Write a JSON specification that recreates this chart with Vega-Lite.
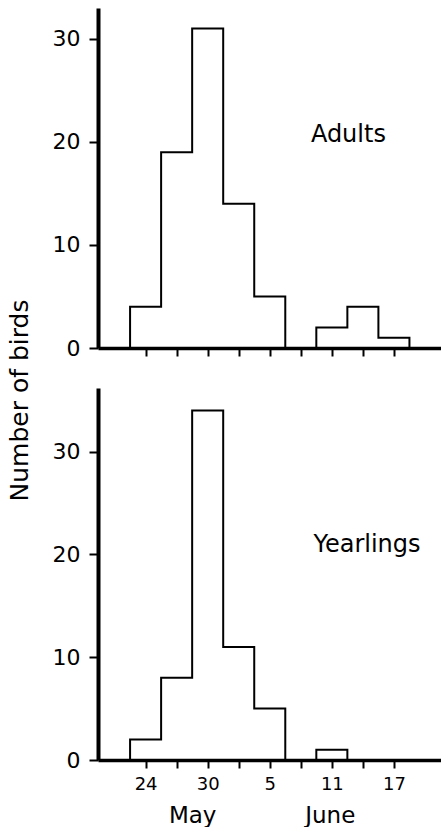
{
  "$schema": "https://vega.github.io/schema/vega-lite/v6.json",
  "padding": {"left": 7, "top": 8, "right": 0, "bottom": 0},
  "background": "white",
  "config": {
    "view": {"stroke": null},
    "font": "DejaVu Sans",
    "axis": {"grid": false, "domainColor": "black", "tickColor": "black", "labelColor": "black", "titleColor": "black", "labelFont": "DejaVu Sans", "titleFont": "DejaVu Sans", "zindex": 1, "labelOverlap": false, "labelFlush": false}
  },
  "datasets": {
    "adults": [
      {"day": 21, "count": 0},
      {"day": 24, "count": 4},
      {"day": 27, "count": 19},
      {"day": 30, "count": 31},
      {"day": 33, "count": 14},
      {"day": 36, "count": 5},
      {"day": 39, "count": 0},
      {"day": 42, "count": 2},
      {"day": 45, "count": 4},
      {"day": 48, "count": 1},
      {"day": 51, "count": 0}
    ],
    "yearlings": [
      {"day": 21, "count": 0},
      {"day": 24, "count": 2},
      {"day": 27, "count": 8},
      {"day": 30, "count": 34},
      {"day": 33, "count": 11},
      {"day": 36, "count": 5},
      {"day": 39, "count": 0},
      {"day": 42, "count": 1},
      {"day": 45, "count": 0},
      {"day": 48, "count": 0},
      {"day": 51, "count": 0}
    ],
    "months": [
      {"month": "May", "day": 28.5},
      {"month": "June", "day": 41.8}
    ]
  },
  "bounds": "flush",
  "spacing": 40,
  "vconcat": [
    {
      "width": 343,
      "height": 340,
      "layer": [
        {
          "data": {"name": "adults"},
          "mark": {"type": "line", "interpolate": "step", "color": "black", "strokeWidth": 2},
          "encoding": {
            "x": {"field": "day", "type": "quantitative", "scale": {"domain": [19.4, 52.55], "nice": false, "zero": false},
                  "axis": {"values": [24, 27, 30, 33, 36, 39, 42, 45, 48], "labels": false, "tickSize": 8, "tickWidth": 2, "domainWidth": 3.5, "title": null}},
            "y": {"field": "count", "type": "quantitative", "scale": {"domain": [0, 33], "nice": false},
                  "axis": {"values": [0, 10, 20, 30], "tickSize": 9, "tickWidth": 2, "domainWidth": 4, "labelFontSize": 22, "labelPadding": 9,
                           "title": "Number of birds", "titleFontSize": 25, "titleFontWeight": "normal", "titleX": -71, "titleY": 392, "titleBaseline": "alphabetic", "titleAngle": 270}}
          }
        },
        {
          "data": {"values": [{"label": "Adults", "day": 43.6, "count": 20.7}]},
          "mark": {"type": "text", "fontSize": 24, "color": "black"},
          "encoding": {
            "x": {"field": "day", "type": "quantitative"},
            "y": {"field": "count", "type": "quantitative"},
            "text": {"field": "label"}
          }
        }
      ]
    },
    {
      "width": 343,
      "height": 372,
      "resolve": {"axis": {"x": "independent"}},
      "layer": [
        {
          "data": {"name": "yearlings"},
          "mark": {"type": "line", "interpolate": "step", "color": "black", "strokeWidth": 2},
          "encoding": {
            "x": {"field": "day", "type": "quantitative", "scale": {"domain": [19.4, 52.55], "nice": false, "zero": false},
                  "axis": {"orient": "bottom", "values": [24, 27, 30, 33, 36, 39, 42, 45, 48], "tickSize": 8, "tickWidth": 2, "domainWidth": 3.5, "title": null,
                           "labelFontSize": 18, "labelPadding": 7,
                           "labelExpr": "datum.value == 24 ? '24' : datum.value == 30 ? '30' : datum.value == 36 ? '5' : datum.value == 42 ? '11' : datum.value == 48 ? '17' : ''"}},
            "y": {"field": "count", "type": "quantitative", "scale": {"domain": [0, 36.2], "nice": false},
                  "axis": {"values": [0, 10, 20, 30], "tickSize": 9, "tickWidth": 2, "domainWidth": 4, "labelFontSize": 22, "labelPadding": 9, "title": null}}
          }
        },
        {
          "data": {"values": [{"label": "Yearlings", "day": 45.4, "count": 20.9}]},
          "mark": {"type": "text", "fontSize": 24, "color": "black"},
          "encoding": {
            "x": {"field": "day", "type": "quantitative", "axis": null},
            "y": {"field": "count", "type": "quantitative"},
            "text": {"field": "label"}
          }
        },
        {
          "data": {"name": "months"},
          "mark": {"type": "point", "opacity": 0},
          "encoding": {
            "x": {"field": "day", "type": "quantitative",
                  "axis": {"orient": "bottom", "values": [28.5, 41.8], "tickSize": 0, "domain": false, "title": null,
                           "labelFontSize": 23, "labelPadding": 44,
                           "labelExpr": "datum.value < 35 ? 'May' : 'June'"}}
          }
        }
      ]
    }
  ]
}
